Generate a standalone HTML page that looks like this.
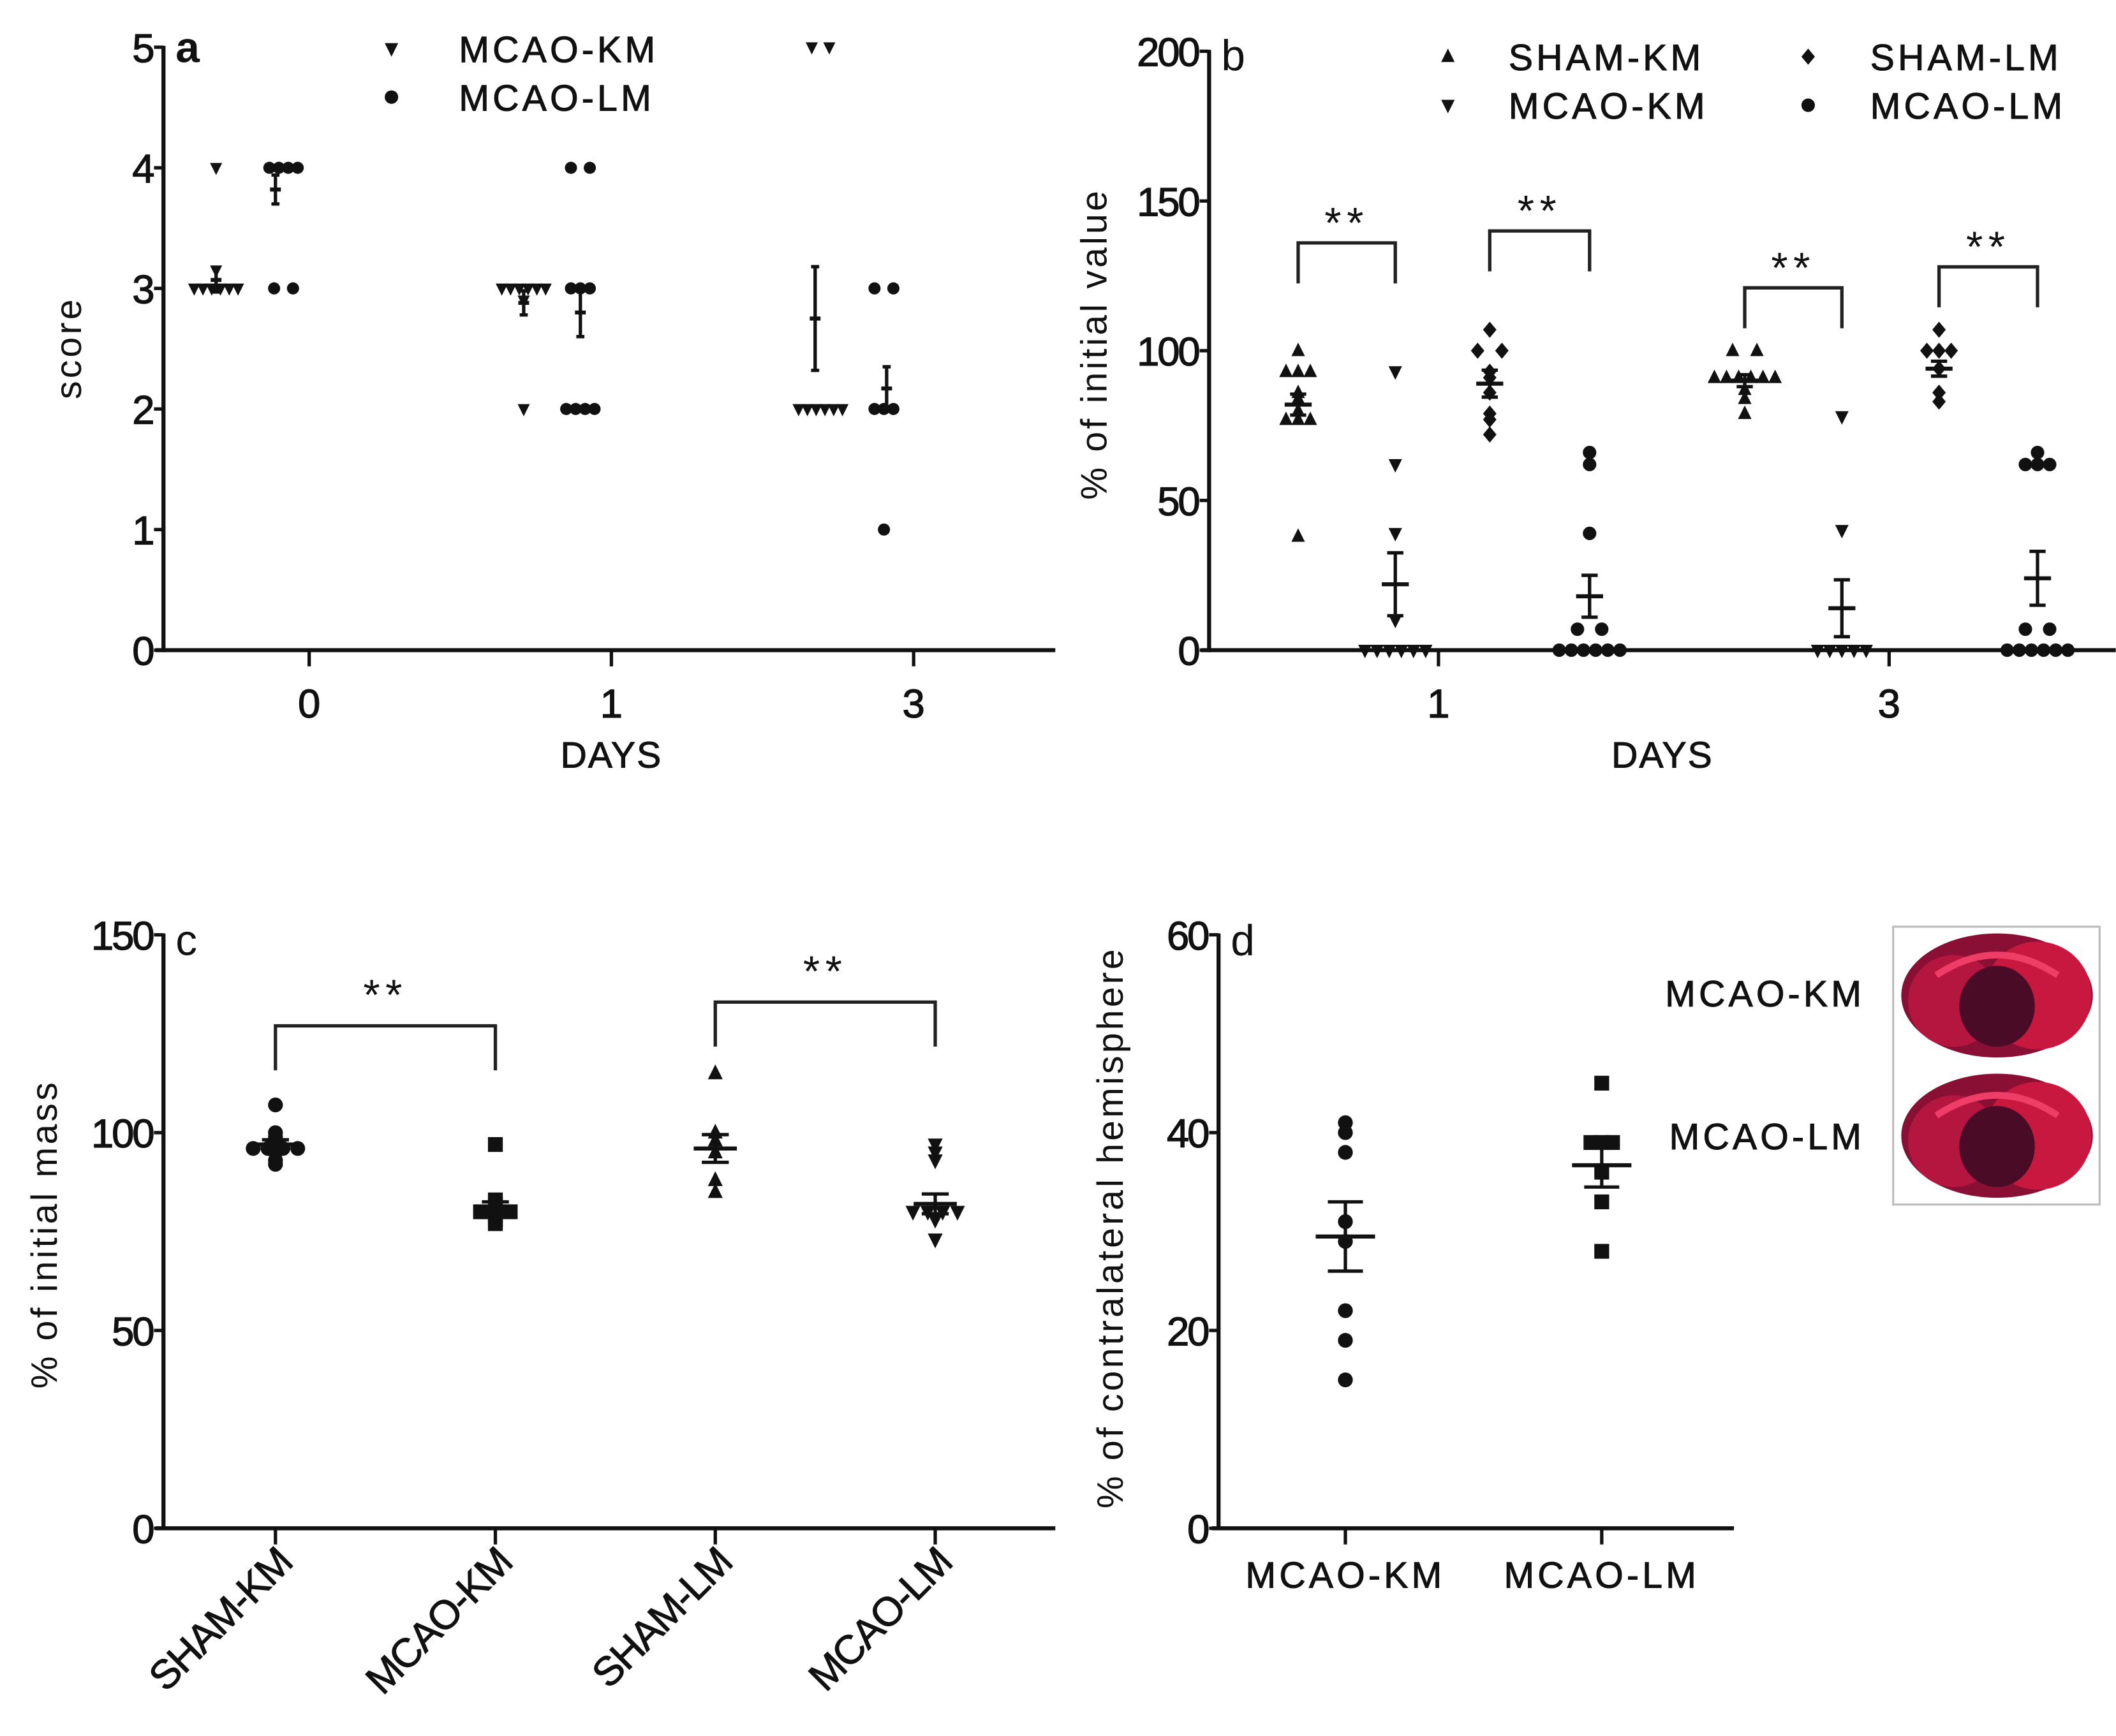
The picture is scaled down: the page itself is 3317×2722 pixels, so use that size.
<!DOCTYPE html>
<html><head><meta charset="utf-8"><style>
html,body{margin:0;padding:0;background:#fff}
svg{display:block}
text{font-family:"Liberation Sans",sans-serif;fill:#111}
</style></head><body>
<svg id="fig" width="3317" height="2722" viewBox="0 0 1568 1287" xmlns="http://www.w3.org/2000/svg"></svg>
<script>
// ---------- Panel a data (score) ----------
const aDays = ["0","1","3"];
const aKM = [[4,3.15,3,3,3,3,3,3],[3,3,3,3,3,3,2,2.9],[5,5,2,2,2,2,2,2]];
const aLM = [[4,4,4,4,3,3],[4,4,3,3,3,2,2,2,2],[3,3,2,2,2,1]];
const aKMmean = [3.07,2.88,2.75]; const aKMerr = [0.1,0.1,0.43];
const aLMmean = [3.82,2.8,2.17]; const aLMerr = [0.12,0.2,0.18];
const aYTicks = [0,1,2,3,4,5];
// ---------- Panel b data ----------
const bDays = ["1","3"];
const bSHKM = [[100,93,93,93,86,84,80,77,77,77,38],[100,100,91,91,91,91,91,91,87,84,79]];
const bMCKM = [[93,62,39,10,0,0,0,0,0,0],[78,40,0,0,0,0,0]];
const bSHLM = [[107,100,100,93,91,86,79,77,72],[107,100,100,100,94,86,83]];
const bMCLM = [[62,66,39,7,7,0,0,0,0,0,0],[62,62,62,66,7,7,0,0,0,0,0,0]];
const bMeans = [[82,22,89,18],[90,14,94,24]];
const bErrs = [[3.5,10.5,4.5,7],[2,9.5,2.5,9]];
const bBrackets = [136,140,121,128];
const bYTicks = [0,50,100,150,200];
// ---------- Panel c data ----------
const cCats = ["SHAM-KM","MCAO-KM","SHAM-LM","MCAO-LM"];
const cVals = [[107,100,99,98,97,96,96,96,96,95,93,92],[97,83,82,81,80,80,80,79,78,77],[115,100,98,95,88,85],[97,95,93,80,80,80,80,78,73]];
const cMeans = [97,81,96,82]; const cErrs = [1.2,1.5,3.5,2.5];
const cBrackets = [127,133];
const cYTicks = [0,50,100,150];
// ---------- Panel d data ----------
const dCats = ["MCAO-KM","MCAO-LM"];
const dVals = [[41,40,38,31,29,22,19,15],[45,39,39,39,36,33,28]];
const dMeans = [29.5,36.7]; const dErrs = [3.5,2.2];
const dYTicks = [0,20,40,60];

const svg = document.getElementById('fig');
const NS = "http://www.w3.org/2000/svg";
function el(tag, attrs, parent){const e=document.createElementNS(NS,tag);for(const k in attrs)e.setAttribute(k,attrs[k]);(parent||svg).appendChild(e);return e;}
function txt(s,x,y,attrs,parent){const t=el('text',Object.assign({x:x,y:y},attrs||{}),parent);t.textContent=s;return t;}
function marker(shape,x,y,r,g){
  let m;
  if(shape==='circle') m=el('circle',{cx:x,cy:y,r:r,fill:'#111'},g);
  else if(shape==='square') m=el('rect',{x:x-r,y:y-r,width:2*r,height:2*r,fill:'#111'},g);
  else if(shape==='up') m=el('polygon',{points:`${x},${y-r*1.2} ${x+r},${y+r*0.8} ${x-r},${y+r*0.8}`,fill:'#111'},g);
  else if(shape==='down') m=el('polygon',{points:`${x},${y+r*1.2} ${x+r},${y-r*0.8} ${x-r},${y-r*0.8}`,fill:'#111'},g);
  else m=el('polygon',{points:`${x},${y-r*1.2} ${x+r},${y} ${x},${y+r*1.2} ${x-r},${y}`,fill:'#111'},g);
  
  
  return m;
}
function scatter(vals,cx,ys,shape,r,sp,g){
  const counts={};vals.forEach(v=>counts[v]=(counts[v]||0)+1);
  const idx={};
  vals.forEach(v=>{const n=counts[v];const k=idx[v]=(idx[v]===undefined?0:idx[v]+1);const s=(n===2?sp*2:sp);marker(shape,cx+(k-(n-1)/2)*s,ys(v),r,g);});
}
function errbar(cx,ys,mean,err,w,cw,g){
  const e=el('g',{},g);
  
  
  el('line',{x1:cx,x2:cx,y1:ys(mean-err),y2:ys(mean+err),stroke:'#111','stroke-width':2.5},e);
  el('line',{x1:cx-w,x2:cx+w,y1:ys(mean),y2:ys(mean),stroke:'#111','stroke-width':3},e);
  el('line',{x1:cx-cw,x2:cx+cw,y1:ys(mean-err),y2:ys(mean-err),stroke:'#111','stroke-width':2.5},e);
  el('line',{x1:cx-cw,x2:cx+cw,y1:ys(mean+err),y2:ys(mean+err),stroke:'#111','stroke-width':2.5},e);
}
function yaxis(g,x,x2,ys,ticks,name){
  const a=el('g',{},g);
  
  
  el('line',{x1:x,x2:x,y1:ys(ticks[ticks.length-1])-1,y2:ys(ticks[0])+1.5,stroke:'#111','stroke-width':3},a);
  ticks.forEach(t=>{el('line',{x1:x-7,x2:x,y1:ys(t),y2:ys(t),stroke:'#111','stroke-width':2.5},a);
    txt(String(t),x-8,ys(t)+11,{'text-anchor':'end','font-size':30,'letter-spacing':'-1.5','stroke':'#111','stroke-width':0.6},a);});
}
function bracket(g,x1,x2,ytop,ybot1,ybot2,sx,sy){
  const b=el('g',{},g);
  
  
  el('polyline',{points:`${x1},${ybot1} ${x1},${ytop} ${x2},${ytop} ${x2},${ybot2}`,fill:'none',stroke:'#222','stroke-width':2.5},b);
  txt('**',sx,sy,{'text-anchor':'middle','font-size':32,fill:'#555','letter-spacing':'4'},b);
}
const LBL={'font-size':27,'letter-spacing':'2.5','stroke':'#111','stroke-width':0.5};

// ================= Panel a =================
(function(){
  const g=el('g',{});
  
  
  const ys=v=>482-v*89.4;
  const xs=[229,453,677];
  yaxis(g,121,782,ys,aYTicks,'y-axis-a');
  el('line',{x1:115,x2:782,y1:482,y2:482,stroke:'#111','stroke-width':3},g);
  xs.forEach((x,i)=>{el('line',{x1:x,x2:x,y1:482,y2:494,stroke:'#111','stroke-width':2.5},g);
    txt(aDays[i],x,532,{'text-anchor':'middle','font-size':30,'stroke':'#111','stroke-width':0.6},g);});
  txt('DAYS',453,569,Object.assign({'text-anchor':'middle'},LBL,{'letter-spacing':'1'}),g);
  const yl=txt('score',0,0,{'text-anchor':'middle','font-size':27,transform:'translate(60,258) rotate(-90)','letter-spacing':'2',fill:'#333'},g);
  
  
  txt('a',130,46,{'font-size':32,'font-weight':'bold'},g);
  marker('down',290,36,5,g);
  txt('MCAO-KM',340,46,LBL,g);
  marker('circle',290,72,5,g);
  txt('MCAO-LM',340,82,LBL,g);
  const kmX=[160,388,608], lmX=[210,430,655];
  for(let i=0;i<3;i++){
    scatter(aKM[i],kmX[i],ys,'down',4.5,6.5,g);
    scatter(aLM[i],lmX[i],ys,'circle',4.5,7,g);
    errbar(kmX[i]+(i==2?-4:0),ys,aKMmean[i],aKMerr[i],4,3,g);
    errbar(lmX[i]-(i==0?6:0)+(i==2?2:0),ys,aLMmean[i],aLMerr[i],4,3,g);
  }
})();

// ================= Panel b =================
(function(){
  const g=el('g',{});
  
  
  const ys=v=>482-v*2.22;
  yaxis(g,896,1568,ys,bYTicks,'y-axis-b');
  el('line',{x1:890,x2:1568,y1:482,y2:482,stroke:'#111','stroke-width':3},g);
  [1066,1400].forEach((x,i)=>{el('line',{x1:x,x2:x,y1:482,y2:494,stroke:'#111','stroke-width':2.5},g);
    txt(bDays[i],x,532,{'text-anchor':'middle','font-size':30,'stroke':'#111','stroke-width':0.6},g);});
  txt('DAYS',1232,569,Object.assign({'text-anchor':'middle'},LBL,{'letter-spacing':'1'}),g);
  const yl=txt('% of initial value',0,0,{'text-anchor':'middle','font-size':27,transform:'translate(820,255) rotate(-90)','letter-spacing':'2',fill:'#333'},g);
  
  
  txt('b',905,52,{'font-size':32},g);
  marker('up',1073,42,5,g); txt('SHAM-KM',1118,52,LBL,g);
  marker('diamond',1340,42,5,g); txt('SHAM-LM',1386,52,LBL,g);
  marker('down',1073,78,5,g); txt('MCAO-KM',1118,88,LBL,g);
  marker('circle',1340,78,5,g); txt('MCAO-LM',1386,88,LBL,g);
  const cx=[[962,1034,1104,1178],[1293,1365,1437,1510]];
  const sets=[bSHKM,bMCKM,bSHLM,bMCLM]; const shapes=['up','down','diamond','circle'];
  for(let d=0;d<2;d++){
    for(let s=0;s<4;s++){
      scatter(sets[s][d],cx[d][s],ys,shapes[s],5,9,g);
      errbar(cx[d][s],ys,bMeans[d][s],bErrs[d][s],10,6,g);
    }
    for(let p=0;p<2;p++){
      const bi=d*2+p; const x1=cx[d][p*2], x2=cx[d][p*2+1];
      const yt=ys(bBrackets[bi]);
      bracket(g,x1,x2,yt,yt+30,yt+30,(x1+x2)/2,yt-4);
    }
  }
})();

// ================= Panel c =================
(function(){
  const g=el('g',{});
  
  
  const ys=v=>1133-v*2.933;
  yaxis(g,121,782,ys,cYTicks,'y-axis-c');
  el('line',{x1:115,x2:782,y1:1133,y2:1133,stroke:'#111','stroke-width':3},g);
  const xs=[204,367,530,693];
  xs.forEach((x,i)=>{el('line',{x1:x,x2:x,y1:1133,y2:1145,stroke:'#111','stroke-width':2.5},g);
    txt(cCats[i],0,0,{'text-anchor':'end','font-size':30,'letter-spacing':'-1','stroke':'#111','stroke-width':0.5,transform:`translate(${x+14},${1160}) rotate(-45)`},g);});
  const yl=txt('% of initial mass',0,0,{'text-anchor':'middle','font-size':27,transform:'translate(42,915) rotate(-90)','letter-spacing':'2',fill:'#333'},g);
  
  
  txt('c',130,708,{'font-size':32},g);
  const shapes=['circle','square','up','down'];
  for(let i=0;i<4;i++){
    scatter(cVals[i],xs[i],ys,shapes[i],5.5,11,g);
    errbar(xs[i],ys,cMeans[i],cErrs[i],16,10,g);
  }
  for(let p=0;p<2;p++){
    const x1=xs[p*2],x2=xs[p*2+1],yt=ys(cBrackets[p]);
    bracket(g,x1,x2,yt,yt+33,yt+33,(x1+x2)/2,yt-12);
  }
})();

// ================= Panel d =================
(function(){
  const g=el('g',{});
  
  
  const ys=v=>1133-v*7.333;
  yaxis(g,903,1285,ys,dYTicks,'y-axis-d');
  el('line',{x1:898,x2:1285,y1:1133,y2:1133,stroke:'#111','stroke-width':3},g);
  const xs=[997,1187];
  xs.forEach((x,i)=>{el('line',{x1:x,x2:x,y1:1133,y2:1145,stroke:'#111','stroke-width':2.5},g);
    txt(dCats[i],x,1177,Object.assign({'text-anchor':'middle'},LBL),g);});
  const yl=txt('% of contralateral hemisphere',0,0,{'text-anchor':'middle','font-size':27,transform:'translate(832,910) rotate(-90)','letter-spacing':'2',fill:'#333'},g);
  
  
  txt('d',912,708,{'font-size':32},g);
  const shapes=['circle','square'];
  for(let i=0;i<2;i++){
    scatter(dVals[i],xs[i],ys,shapes[i],5.5,8,g);
    errbar(xs[i],ys,dMeans[i],dErrs[i],22,13,g);
  }
  txt('MCAO-KM',1234,746,LBL,g);
  txt('MCAO-LM',1237,852,LBL,g);
  const box=el('g',{},g);
  
  
  el('rect',{x:1403,y:687,width:153,height:206,fill:'#fff',stroke:'#bbb','stroke-width':1.5},box);
  [[1480,738],[1480,842]].forEach(([x,y])=>{
    el('ellipse',{cx:x,cy:y,rx:71,ry:46,fill:'#8a0f35'},box);
    el('ellipse',{cx:x+30,cy:y,rx:40,ry:40,fill:'#c8183f'},box);
    el('ellipse',{cx:x-32,cy:y+4,rx:34,ry:34,fill:'#b51640'},box);
    el('ellipse',{cx:x,cy:y+8,rx:28,ry:30,fill:'#4a0b26'},box);
    el('path',{d:`M${x-45},${y-15} Q${x},${y-45} ${x+45},${y-15}`,fill:'none',stroke:'#ee3d66','stroke-width':5},box);
  });
})();
</script>
</body></html>
